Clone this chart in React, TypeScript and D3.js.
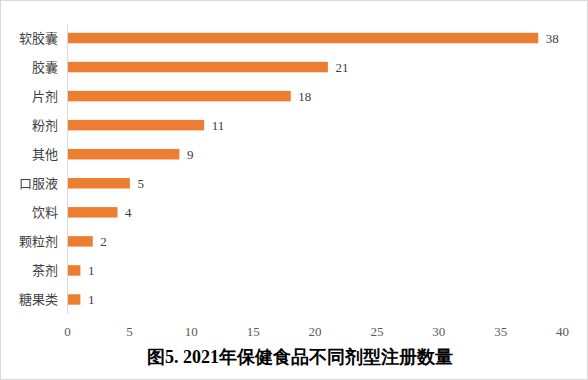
import React from "react";
import * as d3 from "d3";

const categories = ["软胶囊", "胶囊", "片剂", "粉剂", "其他", "口服液", "饮料", "颗粒剂", "茶剂", "糖果类"];
const values = [38, 21, 18, 11, 9, 5, 4, 2, 1, 1];
const xTicks = [0, 5, 10, 15, 20, 25, 30, 35, 40];
const title = "图5. 2021年保健食品不同剂型注册数量";

const W = 588;
const H = 380;

export default function App() {
  const x = d3.scaleLinear().domain([0, 40]).range([67.5, 562.5]);
  const y = d3.scaleBand<string>().domain(categories).range([23.5, 314]).paddingInner(0.64).paddingOuter(0.32);
  const serif = "'Liberation Serif', 'Times New Roman', serif";
  const sans = "'Noto Sans CJK SC', 'Microsoft YaHei', sans-serif";
  return (
    <svg width={W} height={H} style={{ position: "absolute", left: 0, top: 0, background: "#fff" }}>
      <rect x={0.5} y={0.5} width={W - 1} height={H - 1} fill="#fff" stroke="#d9d9d9" />
      <line x1={x(0)} x2={x(0)} y1={24} y2={314} stroke="#d9d9d9" strokeWidth={1} />
      {categories.map((c, i) => (
        <g key={c}>
          <rect x={x(0) + 0.5} y={y(c)} width={x(values[i]) - x(0)} height={y.bandwidth()} fill="#ED7D31" />
          <text x={58} y={(y(c) as number) + y.bandwidth() / 2} dy="0.35em" textAnchor="end" fontFamily={sans} fontSize={13} fill="#404040">{c}</text>
          <text x={x(values[i]) + 8} y={(y(c) as number) + y.bandwidth() / 2} dy="0.35em" fontFamily={serif} fontSize={13} fill="#404040">{values[i]}</text>
        </g>
      ))}
      {xTicks.map((t) => (
        <text key={t} x={x(t)} y={331} dy="0.35em" textAnchor="middle" fontFamily={serif} fontSize={13} fill="#595959">{t}</text>
      ))}
      <text x={300} y={357} dy="0.35em" textAnchor="middle" fontFamily={serif} fontWeight="bold" fontSize={18} fill="#000">{title}</text>
    </svg>
  );
}
